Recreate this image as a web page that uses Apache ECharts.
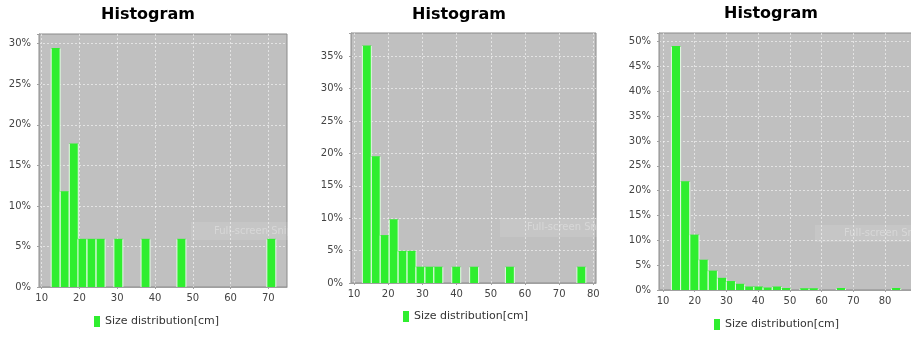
<!DOCTYPE html>
<html>
<head>
<meta charset="utf-8">
<script src="https://cdn.jsdelivr.net/npm/echarts@6/dist/echarts.min.js"></script>
<style>html,body{margin:0;padding:0;background:#fff}#c{width:911px;height:337px}</style>
</head>
<body>
<div id="c"></div>
<script>
// ---- data (bin centres in cm, share of samples in %) ----
const seriesName = 'Size distribution[cm]';
const titleText = 'Histogram';
const watermarkText = 'Full-screen Snip';

const centers1 = [13.7, 16.1, 18.5, 20.8, 23.2, 25.6, 30.3, 37.5, 47.0, 70.8];
const values1  = [29.41, 11.76, 17.65, 5.88, 5.88, 5.88, 5.88, 5.88, 5.88, 5.88];
const binWidth1 = 2.38;

const centers2 = [13.75, 16.37, 18.98, 21.6, 24.21, 26.83, 29.44, 32.06, 34.67, 39.9, 45.13, 55.59, 76.5];
const values2  = [36.59, 19.51, 7.32, 9.76, 4.88, 4.88, 2.44, 2.44, 2.44, 2.44, 2.44, 2.44, 2.44];
const binWidth2 = 2.615;

const centers3 = [14.1, 17.0, 19.9, 22.8, 25.7, 28.6, 31.4, 34.3, 37.2, 40.1, 43.0, 45.9, 48.8, 54.6, 57.5, 66.1, 83.5];
const values3  = [49.0, 21.8, 11.05, 6.0, 3.8, 2.35, 1.7, 1.15, 0.6, 0.6, 0.4, 0.6, 0.3, 0.25, 0.25, 0.3, 0.3];
const binWidth3 = 2.89;

const xTicks = [10, 20, 30, 40, 50, 60, 70, 80, 90];
const yTicks = [0, 5, 10, 15, 20, 25, 30, 35, 40, 45, 50];

// ---- layout / style ----
const panels = [
  {grid:{left:39, top:34, width:248, height:253}, x:[9.29, 74.95], y:[0, 31.2], c:centers1, v:values1, w:binWidth1,
   title:{left:101, top:7}, legend:{left:94, top:316}, wm:{x:191, y:222, w:104, h:18}},
  {grid:{left:351, top:33, width:245, height:250}, x:[9.12, 80.78], y:[0, 38.6], c:centers2, v:values2, w:binWidth2,
   title:{left:412, top:7}, legend:{left:403, top:311}, wm:{x:500, y:218, w:108, h:19}},
  {grid:{left:659, top:33, width:260, height:257}, x:[8.74, 90.7], y:[0, 51.74], c:centers3, v:values3, w:binWidth3,
   title:{left:724, top:6}, legend:{left:714, top:319}, wm:{x:815, y:225, w:110, h:17}}
];

const green = '#2fee2f';
const edge = '#e8f8e8';
const font = 'DejaVu Sans';
const isTick = (v, list) => list.some(t => Math.abs(t - v) < 1e-6);
const gridLine = {show: true, showMinLine: false, showMaxLine: false,
  lineStyle: {color: 'rgba(255,255,255,0.55)', type: [2, 2], width: 1}};

const option = {
  animation: false,
  backgroundColor: '#ffffff',
  title: [], grid: [], xAxis: [], yAxis: [], series: [], legend: [], graphic: []
};

panels.forEach((p, i) => {
  option.title.push({text: titleText, left: p.title.left, top: p.title.top, padding: 0,
    textStyle: {fontFamily: font, fontWeight: 'bold', fontSize: 16, color: '#000'}});
  option.grid.push(Object.assign({show: true, backgroundColor: '#c0c0c0', borderColor: '#8a8a8a', borderWidth: 1,
    containLabel: false, outerBoundsMode: 'none'}, p.grid));
  option.xAxis.push({type: 'value', gridIndex: i, min: p.x[0], max: p.x[1], minInterval: 10, maxInterval: 10,
    axisLine: {show: true, lineStyle: {color: '#a0a0a0'}},
    axisTick: {show: true, length: 2, lineStyle: {color: '#a0a0a0'}},
    axisLabel: {margin: 6, fontFamily: font, fontSize: 10, color: '#444', showMinLabel: false, showMaxLabel: false,
      formatter: v => isTick(v, xTicks) ? String(Math.round(v)) : ''},
    splitLine: gridLine});
  option.yAxis.push({type: 'value', gridIndex: i, min: p.y[0], max: p.y[1], minInterval: 5, maxInterval: 5,
    axisLine: {show: true, lineStyle: {color: '#a0a0a0'}},
    axisTick: {show: true, length: 2, lineStyle: {color: '#a0a0a0'}},
    axisLabel: {margin: 8, fontFamily: font, fontSize: 10, color: '#444',
      formatter: v => isTick(v, yTicks) ? Math.round(v) + '%' : ''},
    splitLine: gridLine});
  const w = p.w;
  option.series.push({
    type: 'custom', name: seriesName, xAxisIndex: i, yAxisIndex: i,
    itemStyle: {color: green},
    encode: {x: 0, y: 1},
    data: p.c.map((c, k) => [c, p.v[k]]),
    renderItem: (params, api) => {
      const c = api.value(0), v = api.value(1);
      const a = api.coord([c - w / 2, v]);
      const b = api.coord([c + w / 2, 0]);
      return {type: 'group', children: [
        {type: 'rect', shape: {x: a[0], y: a[1] - 0.5, width: b[0] - a[0], height: b[1] - a[1] + 0.5},
          style: {fill: green}},
        {type: 'line', shape: {x1: a[0], y1: a[1], x2: a[0], y2: b[1]}, style: {stroke: edge, lineWidth: 1}},
        {type: 'line', shape: {x1: b[0], y1: a[1], x2: b[0], y2: b[1]}, style: {stroke: edge, lineWidth: 1}}
      ]};
    }
  });
  option.legend.push({data: [seriesName], left: p.legend.left, top: p.legend.top, padding: 0,
    icon: 'rect', itemWidth: 6, itemHeight: 11, itemGap: 5, selectedMode: false,
    textStyle: {fontFamily: font, fontSize: 11, color: '#333'}});
  option.graphic.push({type: 'group', silent: true, z: 100, children: [
    {type: 'rect', shape: {x: p.wm.x, y: p.wm.y, width: p.wm.w, height: p.wm.h},
      style: {fill: 'rgba(255,255,255,0.10)'}},
    {type: 'text', x: p.wm.x + p.wm.w - 2, y: p.wm.y + p.wm.h / 2,
      style: {text: watermarkText, fill: 'rgba(255,255,255,0.30)', font: '10px "DejaVu Sans"',
        align: 'right', verticalAlign: 'middle'}}
  ]});
});

const chart = echarts.init(document.getElementById('c'), null, {renderer: 'canvas'});
chart.setOption(option);
</script>
</body>
</html>
